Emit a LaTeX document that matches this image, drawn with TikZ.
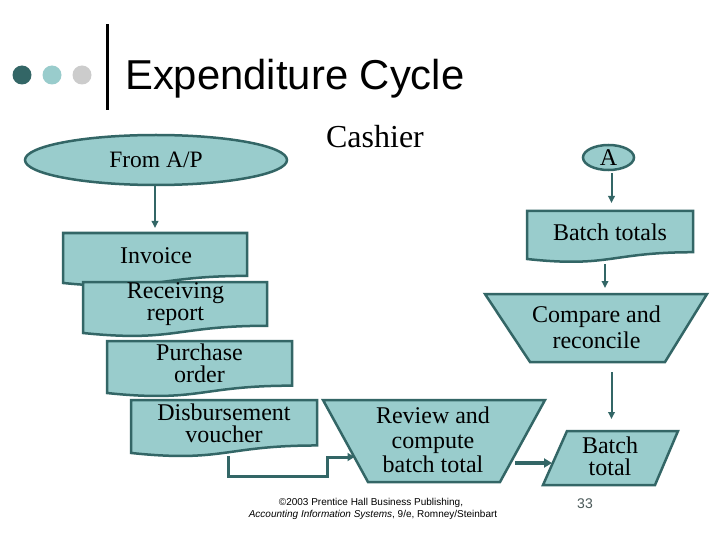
\documentclass[tikz,border=0pt]{standalone}
\usepackage{fontspec}
\setmainfont{Liberation Serif}
\newfontfamily\arialf{Liberation Sans}
\usetikzlibrary{arrows.meta,shapes.geometric}
\definecolor{tealfill}{HTML}{99CCCC}
\definecolor{tealline}{HTML}{336666}
\definecolor{dotgray}{HTML}{CCCCCC}
\definecolor{pagegray}{HTML}{4A5858}
\newcommand{\docpath}[4]{% left right top height
  \path[shapeline] (#1,#3) -- (#2,#3) -- (#2,{#3+0.802*#4})
    .. controls ({(#1+#2)/2},{#3+0.802*#4}) and ({(#1+#2)/2},{#3+1.107*#4}) .. (#1,{#3+0.934*#4}) -- cycle;}
\begin{document}
\begin{tikzpicture}[x=1pt,y=-1pt,
  shapeline/.style={draw=tealline, fill=tealfill, line width=2.5pt, line join=miter},
  lbl/.style={inner sep=0pt, font=\fontsize{24}{22}\selectfont, align=center},
  arr/.style={draw=tealline, line width=2pt, -{Triangle[width=6.5pt,length=7pt]}},
  thickarr/.style={draw=tealline, line width=3.5pt, -{Triangle[width=9pt,length=8pt]}},
]
\useasboundingbox (0,0) rectangle (720,540);
\fill[white] (0,0) rectangle (720,540);

% title decoration
\fill[tealline] (22,75) circle (9.5);
\fill[tealfill] (52,75) circle (9.5);
\fill[dotgray] (82,75) circle (9.5);
\fill[black] (105.5,24) rectangle (108.5,110);
\node[anchor=base west, inner sep=0pt, font=\arialf\fontsize{41.8}{45}\selectfont] (title) at (125,90) {Expenditure Cycle};

% From A/P
\node[ellipse, shapeline, minimum width=262pt, minimum height=50pt, inner sep=0pt,
      font=\fontsize{23.5}{24}\selectfont] (fap) at (156,160) {From A/P};

% Cashier
\node[anchor=base, inner sep=0pt, font=\fontsize{32}{34}\selectfont] (cashier) at (375,148) {Cashier};

% documents on the left
\docpath{63}{247}{233}{53.5}
\node[lbl] (inv) at (156,256) {Invoice};
\coordinate (invtop) at (155,233);
\docpath{83}{267}{282}{54.6}
\node[lbl] (rr) at (175.5,304) {Receiving\\report};
\docpath{107}{292}{341}{55.7}
\node[lbl] (po) at (199.5,363) {Purchase\\order};
\docpath{131}{317}{400}{56.7}
\node[lbl] (dv) at (224,423) {Disbursement\\voucher};
\coordinate (dvbot) at (228,456);

% connector A
\node[ellipse, shapeline, minimum width=51pt, minimum height=25pt, inner sep=0pt,
      font=\fontsize{24}{24}\selectfont] (A) at (608.5,157.5) {A};

% batch totals document
\docpath{527}{693}{211}{51.4}
\node[lbl] (bts) at (610,232) {Batch totals};
\coordinate (btstop) at (611.5,211);
\coordinate (btsbot) at (605,264);

% compare and reconcile (manual operation)
\path[shapeline] (485,294) -- (707,294) -- (665,362) -- (530,362) -- cycle;
\node[lbl, font=\fontsize{24}{26}\selectfont] (cr) at (596.5,327) {Compare and\\reconcile};
\coordinate (crtop) at (605,294);
\coordinate (crbot) at (611.5,372);

% review and compute batch total (manual operation)
\path[shapeline] (323,400) -- (545,400) -- (500,482) -- (368,482) -- cycle;
\node[lbl, font=\fontsize{24}{24.5}\selectfont] (rv) at (433,440) {Review and\\compute\\batch total};
\coordinate (rvleft) at (354.5,457);
\coordinate (rvright) at (515,463);

% batch total (parallelogram)
\path[shapeline] (567,431) -- (678,431) -- (655,485) -- (543,485) -- cycle;
\node[lbl] (btl) at (610,456.5) {Batch\\total};
\coordinate (btltop) at (611.5,431);
\coordinate (btlleft) at (553,463);

% connectors
\draw[arr, shorten >=5pt] (fap.south -| invtop) -- (invtop);
\draw[arr, shorten >=8pt, shorten <=2pt] (A.south -| btstop) -- (btstop);
\draw[arr, shorten >=6pt] (btsbot) -- (crtop);
\draw[arr, shorten >=12pt] (crbot) -- (btltop);
\draw[thickarr, shorten >=1pt] (rvright) -- (btlleft);
\draw[draw=tealline, line width=3pt, line join=miter, -{Triangle[width=8pt,length=7pt]}]
  (dvbot) -- (228,476) -- (327,476) -- (327,457) -- (rvleft);

% footer
\node[inner sep=0pt, anchor=base, font=\arialf\fontsize{10}{12}\selectfont] (foot1) at (371,505)
  {\textcopyright2003 Prentice Hall Business Publishing,};
\node[inner sep=0pt, anchor=base, font=\arialf\fontsize{10}{12}\selectfont] (foot2) at (373,517.5)
  {\textit{Accounting Information Systems}, 9/e, Romney/Steinbart};
\node[inner sep=0pt, anchor=base, text=pagegray, font=\arialf\fontsize{14}{16}\selectfont] (pg) at (585,508) {33};
\end{tikzpicture}
\end{document}
